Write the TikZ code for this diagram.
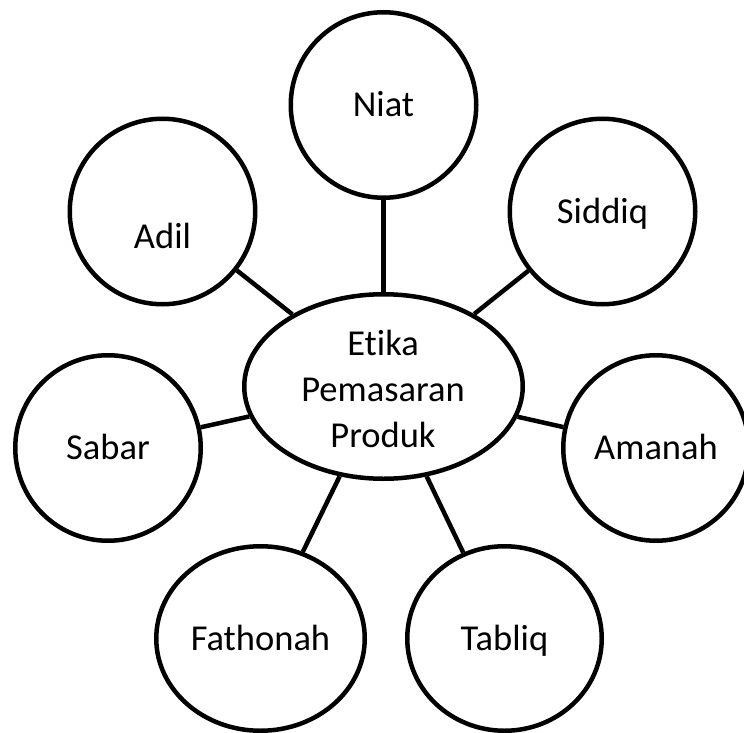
\documentclass[tikz,border=0pt]{standalone}
\usepackage{fontspec}
\setmainfont{Carlito}[Ligatures={NoCommon}]
\usetikzlibrary{shapes.geometric}
\begin{document}
\begin{tikzpicture}[x=1pt,y=-1pt,
  txt/.style={font=\fontsize{36.5}{46}\selectfont,inner sep=0pt},
  word/.style={txt,text height=23.5pt,text depth=0pt},
  ring/.style={circle,draw,line width=4.5pt,minimum size=185.5pt,inner sep=0pt,word},
  oval/.style={ellipse,draw,line width=4.5pt,inner sep=0pt,word},
  link/.style={line width=4.5pt}]
\useasboundingbox (0,0) rectangle (744,733);

% central ellipse and its three-line caption
\node[oval,minimum width=278.5pt,minimum height=184.5pt] (etika) at (383.5,386.5) {};
\node[txt,align=center] (etikatext) at (383,389) {Etika\\Pemasaran\\Produk};

% surrounding values
\node[ring] (niat)   at (383.5,105)   {Niat};
\node[ring] (siddiq) at (602.5,211.5) {Siddiq};
\node[ring] (adil)   at (162.5,211.5) {};
\node[word] (adiltext) at (162.5,236.5) {Adil};
\node[ring] (sabar)  at (108,448)     {Sabar};
\node[ring] (amanah) at (656,448)     {Amanah};
\node[oval,minimum width=208.5pt,minimum height=184.5pt] (fathonah) at (260.5,638.5) {Fathonah};
\node[oval,minimum width=194.5pt,minimum height=184.5pt] (tabliq)   at (504.5,638.5) {Tabliq};

% spokes from the centre
\foreach \n in {niat,siddiq,adil,sabar,amanah,fathonah,tabliq}
  \draw[link] (etika) -- (\n);
\end{tikzpicture}
\end{document}
